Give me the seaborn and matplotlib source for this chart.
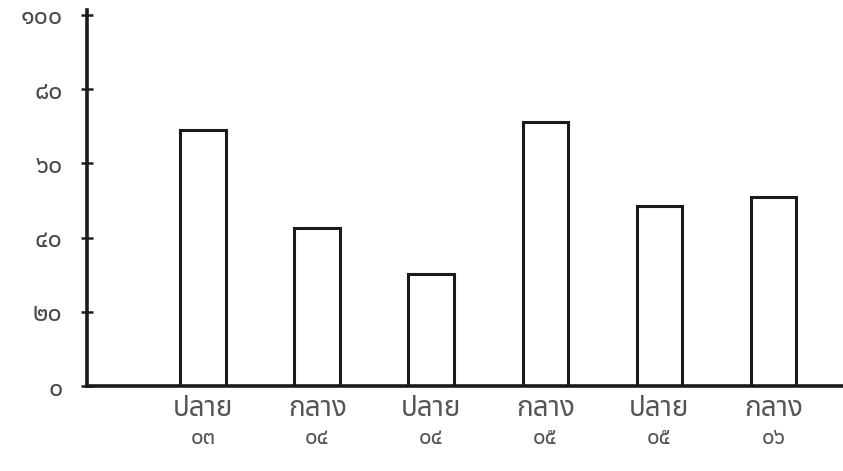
import matplotlib
matplotlib.use("Agg")
import pandas as pd
import seaborn as sns
import matplotlib.pyplot as plt
import matplotlib.transforms as mtransforms

# data
periods = ["ปลาย", "กลาง", "ปลาย", "กลาง", "ปลาย", "กลาง"]
years = ["๐๓", "๐๔", "๐๔", "๐๕", "๐๕", "๐๖"]
values = [69.0, 42.6, 30.2, 71.2, 48.5, 51.0]
ytick_vals = [0, 20, 40, 60, 80, 100]
ytick_labels = ["๐", "๒๐", "๔๐", "๖๐", "๘๐", "๑๐๐"]

sns.set_style("white")
plt.rcParams['font.family'] = ['Noto Sans Thai', 'DejaVu Sans']

df = pd.DataFrame({
    "label": [p + " " + y for p, y in zip(periods, years)],
    "value": values,
})

fig = plt.figure(figsize=(8.43, 4.71), dpi=100)
ax = fig.add_axes([0.103, 0.180, 0.897, 0.799])

sns.barplot(data=df, x="label", y="value", color="white", edgecolor="#1a1a1a",
            linewidth=2.2, width=0.4, ax=ax)

ax.set_xlim(-1.02, 5.61)
ax.set_ylim(0, 101.3)
ax.set_xlabel("")
ax.set_ylabel("")

ax.set_yticks(ytick_vals)
ax.set_yticklabels(ytick_labels, fontsize=18, color="#4a4a4a")
ax.tick_params(axis="y", left=True, direction="inout", length=9, width=1.8,
               color="#222222", pad=13)

ax.set_xticks(range(len(periods)))
ax.set_xticklabels(periods, fontsize=20, color="#555555", fontweight="light")
ax.tick_params(axis="x", bottom=False, length=0, pad=6)

# second line of each category label (year digits), smaller
trans = mtransforms.blended_transform_factory(ax.transData, ax.transAxes)
for i, y in enumerate(years):
    ax.text(i, -0.112, y, transform=trans, ha="center", va="top",
            fontsize=16, color="#555555")

sns.despine(ax=ax)
for side in ["left", "bottom"]:
    ax.spines[side].set_linewidth(2.6)
    ax.spines[side].set_color("#1a1a1a")

fig.savefig("out.png", dpi=100)
